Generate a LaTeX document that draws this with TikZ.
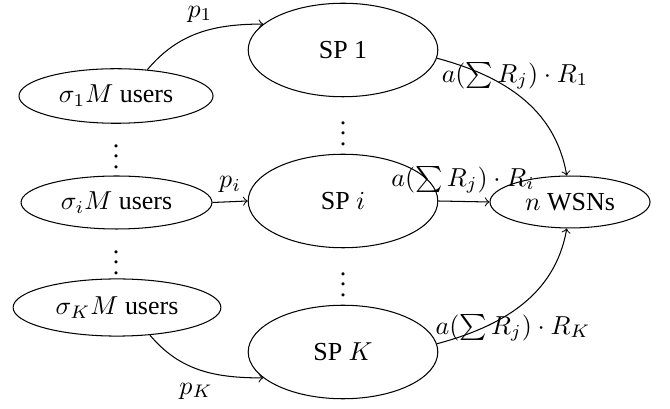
\documentclass[tikz,border=0pt]{standalone}
\usepackage{fontspec}
\setmainfont{Liberation Serif}
\usetikzlibrary{shapes.geometric}
\begin{document}
\begin{tikzpicture}[x=0.385pt,y=-0.385pt,
  ell/.style={draw,ellipse,inner sep=0pt},
  usr/.style={ell,minimum height=21pt},
  sp/.style={ell,minimum width=73pt,minimum height=36pt},
  arr/.style={->}]
\useasboundingbox (0,0) rectangle (670,409);
\node[usr,minimum width=74.7pt] (u1) at (116,96) {$\sigma_1 M$ users};
\node[usr,minimum width=73.5pt,minimum height=20.4pt] (ui) at (116.5,202.5) {$\sigma_i M$ users};
\node[usr,minimum width=80pt,minimum height=22pt] (uK) at (117,307.5) {$\sigma_K M$ users};
\node[sp] (s1) at (343,50) {SP 1};
\node[sp] (si) at (343,201) {SP $i$};
\node[sp] (sK) at (343,352) {SP $K$};
\node[ell,minimum width=61.6pt,minimum height=20pt] (w) at (570,202) {$n$ WSNs};
\node[inner sep=0pt] (d1) at (116,149) {$\vdots$};
\node[inner sep=0pt] (d4) at (116,255) {$\vdots$};
\node[inner sep=0pt] (d2) at (343,126) {$\vdots$};
\node[inner sep=0pt] (d3) at (343,277) {$\vdots$};
\draw[arr] (u1.40) to[out=50,in=180] (s1.162);
\node (lp1) at (200,14) {$p_1$};
\draw[arr] (ui.east) -- node[above] {$p_i$} (si.west);
\draw[arr] (uK.-40) to[out=-50,in=180] (sK.198);
\node (lpK) at (196,391) {$p_K$};
\draw[arr] (s1.-5) to[out=-15,in=100] (w.97);
\draw[arr] (si.east) -- (w.west);
\draw[arr] (sK.5) to[out=15,in=-100] (w.-97);
\node (l1) at (515,76) {$a(\sum R_j)\cdot R_1$};
\node (li) at (463,180) {$a(\sum R_j)\cdot R_i$};
\node (lK) at (513,328) {$a(\sum R_j)\cdot R_K$};
\end{tikzpicture}
\end{document}
